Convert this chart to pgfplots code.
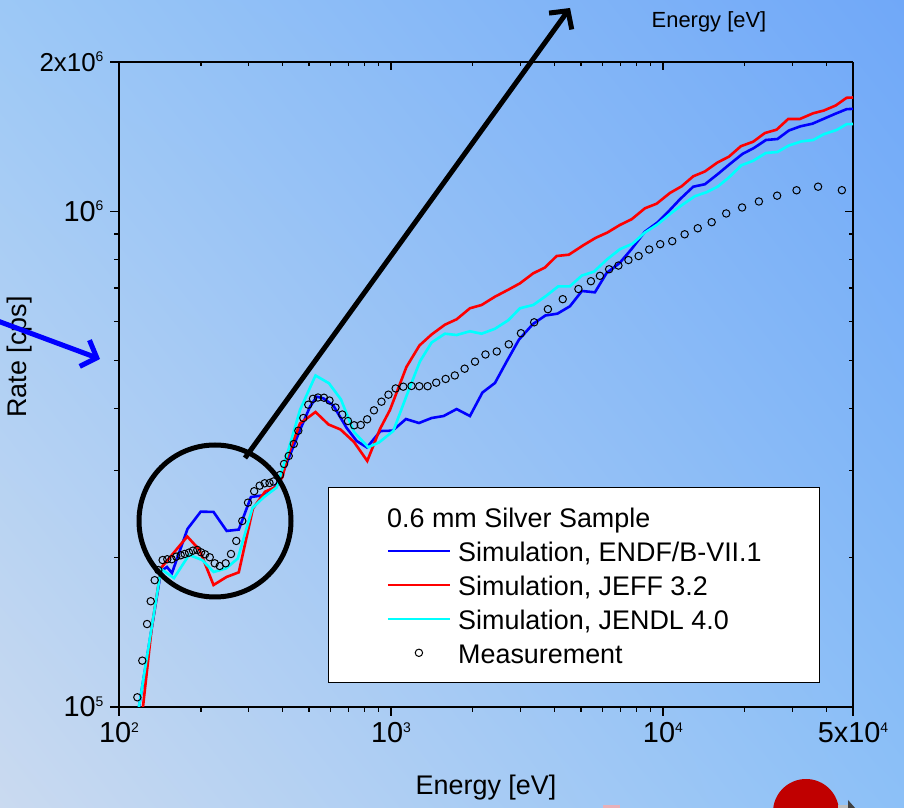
\documentclass[border=0pt]{standalone}
\usepackage{fontspec}
\setmainfont{Liberation Sans}
\usepackage{pgfplots}
\pgfplotsset{compat=1.18}
\usetikzlibrary{arrows.meta,shadings}
\definecolor{bgUL}{RGB}{156,200,246}
\definecolor{bgUR}{RGB}{112,168,248}
\definecolor{bgLL}{RGB}{202,218,240}
\definecolor{bgLR}{RGB}{140,192,247}
\definecolor{sblue}{RGB}{0,0,255}
\definecolor{sred}{RGB}{255,0,0}
\definecolor{scyan}{RGB}{0,255,255}
\definecolor{dred}{RGB}{192,0,0}
\definecolor{pinkish}{RGB}{232,176,184}
\newcommand\tsup[1]{\raisebox{10.5bp}{\fontsize{14}{14}\selectfont #1}}
\begin{document}
\begin{tikzpicture}
\useasboundingbox (0bp,0bp) rectangle (904bp,808bp);
\clip (0bp,0bp) rectangle (904bp,808bp);
\shade[upper left=bgUL, upper right=bgUR, lower left=bgLL, lower right=bgLR] (0bp,0bp) rectangle (904bp,808bp);

% top/right ticks (inside)
\begin{axis}[
  at={(119bp,101bp)}, anchor=south west,
  scale only axis, width=734bp, height=645bp,
  xmode=log, ymode=log,
  xmin=100, xmax=50000, ymin=1e5, ymax=2e6,
  axis x line*=top, axis y line*=right,
  tick align=inside,
  xtick={100,1000,10000,50000}, xticklabels={},
  minor xtick={200,300,400,500,600,700,800,900,2000,3000,4000,5000,6000,7000,8000,9000,20000,30000,40000},
  ytick={100000,1000000,2000000}, yticklabels={},
  minor ytick={200000,300000,400000,500000,600000,700000,800000,900000},
  major tick length=8bp, minor tick length=4.5bp,
  major tick style={line width=1.3bp, black},
  minor tick style={line width=1.3bp, black},
  axis line style={line width=1.6bp, black},
]
\end{axis}

\begin{axis}[
  at={(119bp,101bp)}, anchor=south west,
  scale only axis, width=734bp, height=645bp,
  xmode=log, ymode=log,
  xmin=100, xmax=50000, ymin=1e5, ymax=2e6,
  axis x line*=bottom, axis y line*=left,
  tick align=outside,
  xtick={100,1000,10000,50000},
  xticklabels={10\tsup{2},10\tsup{3},10\tsup{4},5x10\tsup{4}},
  minor xtick={200,300,400,500,600,700,800,900,2000,3000,4000,5000,6000,7000,8000,9000,20000,30000,40000},
  ytick={100000,1000000,2000000},
  yticklabels={10\tsup{5},10\tsup{6},{\fontsize{26}{30}\selectfont 2x10\tsup{6}}},
  minor ytick={200000,300000,400000,500000,600000,700000,800000,900000},
  major tick length=9bp, minor tick length=5bp,
  major tick style={line width=1.3bp, black},
  minor tick style={line width=1.3bp, black},
  axis line style={line width=1.6bp, black},
  ticklabel style={font=\fontsize{29}{32}\selectfont},
  xticklabel style={yshift=-3bp},
  yticklabel style={xshift=-3bp},
  xlabel={Energy [eV]}, ylabel={Rate [cps]},
  label style={font=\fontsize{27}{30}\selectfont},
  xlabel style={at={(axis description cs:0.5,-0.1256)}, anchor=center},
  ylabel style={at={(axis description cs:-0.1349,0.5426)}, anchor=center, rotate=0},
  legend cell align=left,
  legend style={at={(rel axis cs:0.2847,0.0372)}, anchor=south west,
    draw=black, line width=1.3bp, fill=white,
    font=\fontsize{27}{30}\selectfont,
    inner xsep=58bp, inner ysep=16bp, row sep=7bp, column sep=7bp,
    nodes={inner xsep=0bp, inner ysep=0bp, text height=24bp, text depth=3bp}},
  legend image code/.code={\draw[mark repeat=2, mark phase=2, #1] plot coordinates {(0bp,0bp) (31bp,0bp) (62bp,0bp)};},
]
\addlegendimage{empty legend}
\addlegendentry{\hspace{-71bp}0.6 mm Silver Sample}

\addplot[color=sblue, line width=2.6bp] coordinates {
(118.4,1.0e5) (142.7,1.880e5) (150.1,1.916e5) (156.6,1.863e5) (178.6,2.286e5) (199.8,2.477e5) (222.6,2.474e5) (248.9,2.265e5) (275.7,2.279e5) (305.6,2.651e5) (344.3,2.676e5) (369.2,2.748e5) (396.5,2.924e5) (425.3,3.223e5) (462.9,3.620e5) (503.8,4.033e5) (533.1,4.225e5) (563.8,4.194e5) (613.8,4.056e5) (687.4,3.654e5) (747.9,3.440e5) (816.2,3.338e5) (915.0,3.603e5) (1012.8,3.608e5) (1135.5,3.809e5) (1267.8,3.739e5) (1411,3.827e5) (1562,3.863e5) (1744,3.990e5) (1952,3.863e5) (2170,4.308e5) (2412,4.503e5) (2670,4.988e5) (2955,5.506e5) (3328,5.922e5) (3698,6.161e5) (4094,6.213e5) (4550,6.430e5) (5037,6.903e5) (5623,6.861e5) (6209,7.505e5) (6930,7.862e5) (7673,8.390e5) (8587,9.092e5) (9546,9.489e5) (10522,1.0009e6) (11548,1.0568e6) (12929,1.1205e6) (14268,1.1332e6) (15928,1.1885e6) (17634,1.2450e6) (19604,1.3043e6) (21610,1.3412e6) (23918,1.3918e6) (26363,1.3982e6) (29058,1.4547e6) (32023,1.4831e6) (35445,1.5013e6) (39255,1.5382e6) (43451,1.5758e6) (47360,1.6059e6) (50000,1.6089e6)
};
\addlegendentry{Simulation, ENDF/B-VII.1}

\addplot[color=sred, line width=2.6bp] coordinates {
(122.5,1.0e5) (131.9,1.443e5) (142.7,1.907e5) (178.3,2.207e5) (197.7,2.074e5) (222.6,1.762e5) (248.5,1.829e5) (275.7,1.869e5) (310.9,2.514e5) (344.3,2.718e5) (377.7,2.778e5) (399.2,2.910e5) (415.8,3.193e5) (462.9,3.731e5) (527.9,3.936e5) (589.2,3.714e5) (652.1,3.629e5) (731.1,3.424e5) (818.2,3.135e5) (911.2,3.637e5) (991.5,3.972e5) (1140,4.851e5) (1273,5.360e5) (1411,5.641e5) (1579,5.903e5) (1744,6.053e5) (1952,6.371e5) (2155,6.469e5) (2412,6.723e5) (2700,6.944e5) (2981,7.154e5) (3336,7.495e5) (3683,7.698e5) (4067,8.120e5) (4511,8.171e5) (5093,8.534e5) (5647,8.830e5) (6252,9.057e5) (6948,9.380e5) (7673,9.632e5) (8587,1.0135e6) (9480,1.0354e6) (10610,1.0881e6) (11716,1.1226e6) (12929,1.1760e6) (14268,1.2026e6) (15863,1.2536e6) (17482,1.2879e6) (19357,1.3523e6) (21478,1.3809e6) (23714,1.4377e6) (26182,1.4601e6) (28891,1.5346e6) (31892,1.5346e6) (35686,1.5758e6) (39084,1.5963e6) (43192,1.6339e6) (47353,1.6932e6) (50000,1.6956e6)
};
\addlegendentry{Simulation, JEFF 3.2}

\addplot[color=scyan, line width=2.6bp] coordinates {
(118.4,1.0e5) (142.7,1.898e5) (159.3,1.820e5) (180.9,2.026e5) (202.4,1.979e5) (222.9,1.872e5) (247.8,1.904e5) (273.4,1.993e5) (309.6,2.520e5) (341.3,2.651e5) (380.0,2.772e5) (421.7,3.330e5) (462.9,3.972e5) (527.9,4.663e5) (591.6,4.497e5) (655.0,4.171e5) (731.1,3.587e5) (825.0,3.341e5) (903.5,3.416e5) (1019.7,3.603e5) (1142,4.249e5) (1278,4.977e5) (1411,5.435e5) (1579,5.661e5) (1744,5.627e5) (1952,5.725e5) (2155,5.661e5) (2412,5.792e5) (2700,6.026e5) (2981,6.371e5) (3336,6.469e5) (3715,6.745e5) (4122,7.055e5) (4550,7.055e5) (5037,7.418e5) (5576,7.551e5) (6209,7.982e5) (6948,8.382e5) (7726,8.595e5) (8587,9.057e5) (9546,9.401e5) (10700,9.903e5) (11795,1.0306e6) (13113,1.0722e6) (14477,1.0921e6) (15928,1.1215e6) (17482,1.1695e6) (19468,1.2381e6) (21478,1.2638e6) (23918,1.3104e6) (26363,1.3164e6) (29058,1.3567e6) (32165,1.3822e6) (35686,1.3918e6) (39084,1.4298e6) (43521,1.4581e6) (47353,1.4978e6) (50000,1.4992e6)
};
\addlegendentry{Simulation, JENDL 4.0}

\addplot[only marks, mark=o, mark size=3.7bp, color=black, mark options={line width=1bp}] coordinates {
(116.8,1.046e5) (121.8,1.240e5) (126.8,1.470e5) (130.8,1.634e5) (135.3,1.802e5) (139.5,1.889e5) (144.7,1.979e5) (150.5,1.986e5) (156.2,1.986e5) (162.4,2.010e5) (168.6,2.023e5) (174.4,2.035e5) (180.9,2.048e5) (187.1,2.067e5) (194.1,2.074e5) (200.3,2.051e5) (207.2,2.032e5) (215.6,2.004e5) (224.9,1.949e5) (234.6,1.925e5) (246.7,1.949e5) (258.1,2.035e5) (269.9,2.162e5) (284.0,2.372e5) (298.1,2.583e5) (314.1,2.724e5) (329.1,2.795e5) (343.4,2.826e5) (357.6,2.830e5) (369.8,2.850e5) (390.8,2.937e5) (404.4,3.091e5) (420.8,3.208e5) (439.3,3.392e5) (456.4,3.608e5) (476.1,3.827e5) (496.6,4.071e5) (516.7,4.184e5) (539.0,4.209e5) (567.2,4.205e5) (594.2,4.151e5) (625.2,4.018e5) (662.2,3.890e5) (695.0,3.774e5) (732.4,3.700e5) (774.5,3.705e5) (817.5,3.804e5) (866.0,3.966e5) (922.8,4.128e5) (979.1,4.265e5) (1040.6,4.390e5) (1110,4.426e5) (1190,4.441e5) (1271,4.436e5) (1364,4.436e5) (1467,4.510e5) (1589,4.588e5) (1717,4.663e5) (1866,4.812e5) (2037,4.972e5) (2226,5.140e5) (2449,5.212e5) (2711,5.389e5) (3006,5.674e5) (3362,5.969e5) (3777,6.344e5) (4282,6.646e5) (4890,6.967e5) (5436,7.224e5) (5866,7.407e5) (6342,7.638e5) (6862,7.770e5) (7468,7.971e5) (8140,8.120e5) (8904,8.370e5) (9772,8.580e5) (10820,8.700e5) (12020,8.983e5) (13430,9.237e5) (15110,9.502e5) (17090,9.895e5) (19550,1.0174e6) (22540,1.0461e6) (26300,1.0747e6) (31000,1.1020e6) (37200,1.1205e6) (45500,1.1025e6)
};
\addlegendentry{Measurement}
\end{axis}

% annotations
\draw[line width=5bp, black] (215bp,287bp) circle (76bp);
\draw[line width=5bp, black, -{Straight Barb[length=13bp,width=28bp]}] (245bp,350bp) -- (570bp,800bp);
\draw[line width=5bp, sblue, -{Straight Barb[length=13bp,width=28bp]}] (-5bp,488bp) -- (100bp,449bp);
\fill[dred] (806bp,-4bp) circle (33bp);
\fill[gray!50] (838bp,0bp) rectangle (853bp,2.5bp);
\fill[black!75] (848bp,8bp) -- (848bp,-1bp) -- (856bp,-1bp) -- cycle;
\fill[pinkish] (603bp,0bp) rectangle (620bp,2.5bp);
\node[font=\fontsize{22}{26}\selectfont] at (709bp,786bp) {Energy [eV]};
\end{tikzpicture}
\end{document}
